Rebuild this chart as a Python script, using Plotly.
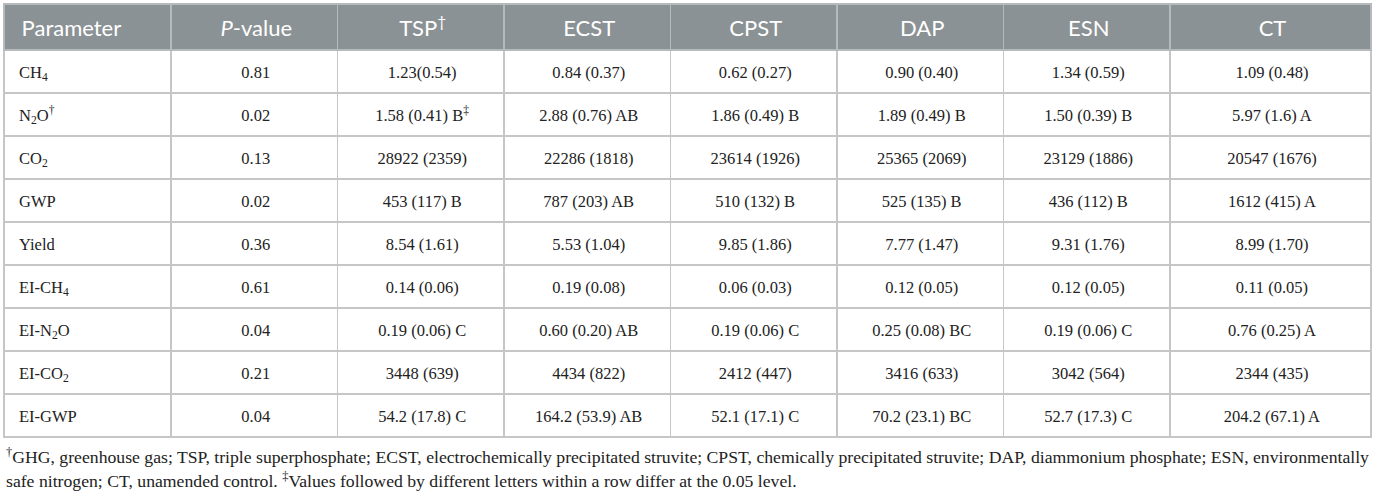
import plotly.graph_objects as go

header = ["Parameter", "<i>P</i>-value", "TSP<sup>†</sup>", "ECST", "CPST", "DAP", "ESN", "CT"]

parameters = ["CH<sub>4</sub>", "N<sub>2</sub>O<sup>†</sup>", "CO<sub>2</sub>", "GWP", "Yield",
              "EI-CH<sub>4</sub>", "EI-N<sub>2</sub>O", "EI-CO<sub>2</sub>", "EI-GWP"]
p_values = ["0.81", "0.02", "0.13", "0.02", "0.36", "0.61", "0.04", "0.21", "0.04"]
tsp = ["1.23(0.54)", "1.58 (0.41) B<sup>‡</sup>", "28922 (2359)", "453 (117) B", "8.54 (1.61)",
       "0.14 (0.06)", "0.19 (0.06) C", "3448 (639)", "54.2 (17.8) C"]
ecst = ["0.84 (0.37)", "2.88 (0.76) AB", "22286 (1818)", "787 (203) AB", "5.53 (1.04)",
        "0.19 (0.08)", "0.60 (0.20) AB", "4434 (822)", "164.2 (53.9) AB"]
cpst = ["0.62 (0.27)", "1.86 (0.49) B", "23614 (1926)", "510 (132) B", "9.85 (1.86)",
        "0.06 (0.03)", "0.19 (0.06) C", "2412 (447)", "52.1 (17.1) C"]
dap = ["0.90 (0.40)", "1.89 (0.49) B", "25365 (2069)", "525 (135) B", "7.77 (1.47)",
       "0.12 (0.05)", "0.25 (0.08) BC", "3416 (633)", "70.2 (23.1) BC"]
esn = ["1.34 (0.59)", "1.50 (0.39) B", "23129 (1886)", "436 (112) B", "9.31 (1.76)",
       "0.12 (0.05)", "0.19 (0.06) C", "3042 (564)", "52.7 (17.3) C"]
ct = ["1.09 (0.48)", "5.97 (1.6) A", "20547 (1676)", "1612 (415) A", "8.99 (1.70)",
      "0.11 (0.05)", "0.76 (0.25) A", "2344 (435)", "204.2 (67.1) A"]

footnote_1 = ("<sup>†</sup>GHG, greenhouse gas; TSP, triple superphosphate; ECST, electrochemically "
              "precipitated struvite; CPST, chemically precipitated struvite; DAP, diammonium phosphate; "
              "ESN, environmentally")
footnote_2 = ("safe nitrogen; CT, unamended control. <sup>‡</sup>Values followed by different letters "
              "within a row differ at the 0.05 level.")

columns = [parameters, p_values, tsp, ecst, cpst, dap, esn, ct]
col_widths = [167, 166.5, 166.5, 166.5, 166.5, 166.5, 166.5, 201]
aligns = ["left"] + ["center"] * 7

PLOT_H = 440          # plot-area height in px (498 - top 4 - bottom 54)
HEAD_H, ROW_H = 46, 43
HEAD_SHIFT, BODY_SHIFT = 0, 3   # px the text layers sit lower than the grid layer

lead = "<sup>&nbsp;</sup>"  # same raised box in every cell -> same vertical placement
header_text = [lead + "&nbsp;" + header[0]] + [lead + h for h in header[1:]]
body_text = [[lead + ("&nbsp;" if i == 0 else "") + v for v in col] for i, col in enumerate(columns)]
blank_header = [""] * len(header)
blank_body = [[""] * len(parameters) for _ in columns]

clear = "rgba(0,0,0,0)"
head_font = dict(family="Lato", size=22, color="white")
body_font = dict(family="Liberation Serif", size=16.5, color="#222222")

# grid layer: fills and rules
grid = go.Table(
    columnwidth=col_widths,
    domain=dict(x=[0, 1], y=[0, 1]),
    header=dict(values=blank_header, fill_color="#8b9295",
                line=dict(color="#b5babc", width=1.5), height=HEAD_H, font=head_font),
    cells=dict(values=blank_body, fill_color="white",
               line=dict(color="#c6c6c6", width=1.5), height=ROW_H, font=body_font),
)
# header text layer
head_layer = go.Table(
    columnwidth=col_widths,
    domain=dict(x=[0, 1], y=[0, 1 - HEAD_SHIFT / PLOT_H]),
    header=dict(values=header_text, fill_color=clear, line=dict(color=clear, width=0),
                align=aligns, font=head_font, height=HEAD_H),
    cells=dict(values=blank_body, fill_color=clear, line=dict(color=clear, width=0),
               height=ROW_H, font=body_font),
)
# body text layer
body_layer = go.Table(
    columnwidth=col_widths,
    domain=dict(x=[0, 1], y=[0, 1 - BODY_SHIFT / PLOT_H]),
    header=dict(values=blank_header, fill_color=clear, line=dict(color=clear, width=0),
                height=HEAD_H, font=head_font),
    cells=dict(values=body_text, fill_color=clear, line=dict(color=clear, width=0),
               align=aligns, font=body_font, height=ROW_H),
)

fig = go.Figure([grid, head_layer, body_layer])

fig.add_annotation(text=footnote_1, xref="paper", yref="paper", x=0, y=-0.0273,
                   xanchor="left", yanchor="middle", showarrow=False, align="left",
                   font=dict(family="Liberation Serif", size=17.7, color="#222222"))
fig.add_annotation(text=footnote_2, xref="paper", yref="paper", x=0, y=-0.0818,
                   xanchor="left", yanchor="middle", showarrow=False, align="left",
                   font=dict(family="Liberation Serif", size=17.7, color="#222222"))

fig.update_layout(width=1375, height=498, margin=dict(l=4, r=4, t=4, b=54),
                  paper_bgcolor="white", plot_bgcolor="white")
fig.write_html("out.html", config={"displayModeBar": False},
               post_script="document.body.style.margin='0';")
